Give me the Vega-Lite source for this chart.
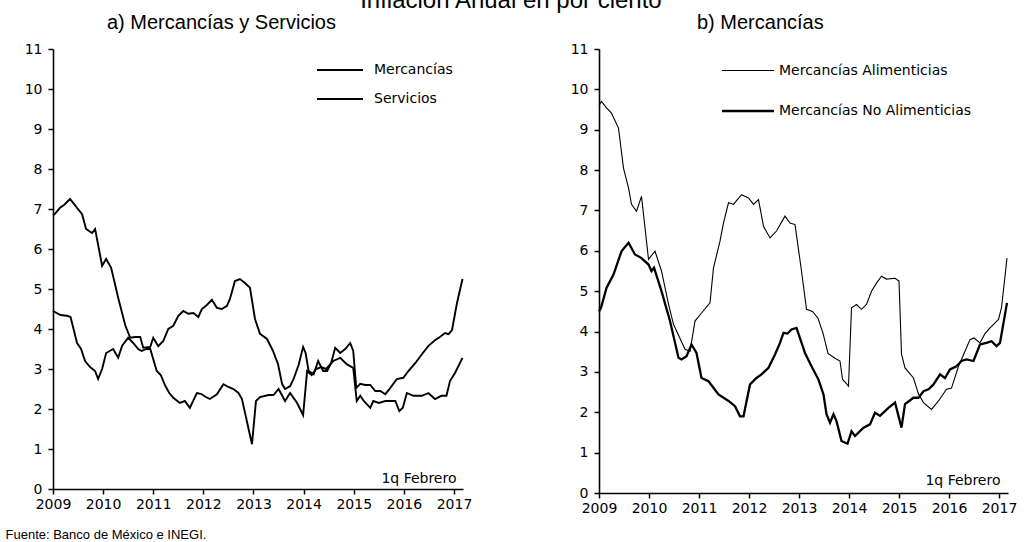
{
  "$schema": "https://vega.github.io/schema/vega-lite/v6.json",
  "background": "white",
  "padding": {"left": 5, "top": -11, "right": 2, "bottom": 0},
  "title": {"text": "Inflación Anual en por ciento", "font": "Liberation Sans", "fontSize": 24, "fontWeight": "normal", "color": "black", "anchor": "middle", "offset": 0},
  "config": {
    "view": {"stroke": null},
    "font": "Liberation Sans",
    "axis": {"domainColor": "black", "domainWidth": 1.6, "tickColor": "black", "tickWidth": 1.5, "tickSize": 5, "labelFont": "DejaVu Sans", "labelFontSize": 14, "labelColor": "black", "labelFlush": false, "grid": false, "titleFont": "DejaVu Sans", "titleFontSize": 14, "titleFontWeight": "normal", "titleColor": "black"},
    "axisY": {"labelPadding": 6},
    "axisX": {"labelPadding": 3},
    "legend": {"title": null, "orient": "none", "symbolStrokeColor": "black", "symbolFillColor": "transparent", "symbolSize": 235, "labelFont": "DejaVu Sans", "labelFontSize": 14, "labelColor": "black", "labelLimit": 400, "padding": 0}
  },
  "datasets": {
    "a": [
      {"s": "Mercancías", "t": 2009.0, "v": 6.85}, {"s": "Mercancías", "t": 2009.04, "v": 6.88}, {"s": "Mercancías", "t": 2009.14, "v": 7.03}, {"s": "Mercancías", "t": 2009.22, "v": 7.1}, {"s": "Mercancías", "t": 2009.34, "v": 7.25}, {"s": "Mercancías", "t": 2009.48, "v": 7.03}, {"s": "Mercancías", "t": 2009.58, "v": 6.87}, {"s": "Mercancías", "t": 2009.66, "v": 6.5}, {"s": "Mercancías", "t": 2009.78, "v": 6.4}, {"s": "Mercancías", "t": 2009.84, "v": 6.5}, {"s": "Mercancías", "t": 2009.98, "v": 5.58}, {"s": "Mercancías", "t": 2010.06, "v": 5.75}, {"s": "Mercancías", "t": 2010.16, "v": 5.53}, {"s": "Mercancías", "t": 2010.26, "v": 5.0}, {"s": "Mercancías", "t": 2010.3, "v": 4.78}, {"s": "Mercancías", "t": 2010.44, "v": 4.1}, {"s": "Mercancías", "t": 2010.54, "v": 3.78}, {"s": "Mercancías", "t": 2010.64, "v": 3.8}, {"s": "Mercancías", "t": 2010.74, "v": 3.8}, {"s": "Mercancías", "t": 2010.8, "v": 3.53}, {"s": "Mercancías", "t": 2010.94, "v": 3.55}, {"s": "Mercancías", "t": 2011.0, "v": 3.78}, {"s": "Mercancías", "t": 2011.1, "v": 3.57}, {"s": "Mercancías", "t": 2011.2, "v": 3.7}, {"s": "Mercancías", "t": 2011.3, "v": 4.0}, {"s": "Mercancías", "t": 2011.4, "v": 4.08}, {"s": "Mercancías", "t": 2011.5, "v": 4.33}, {"s": "Mercancías", "t": 2011.6, "v": 4.45}, {"s": "Mercancías", "t": 2011.7, "v": 4.38}, {"s": "Mercancías", "t": 2011.8, "v": 4.4}, {"s": "Mercancías", "t": 2011.9, "v": 4.3}, {"s": "Mercancías", "t": 2011.97, "v": 4.5}, {"s": "Mercancías", "t": 2012.07, "v": 4.6}, {"s": "Mercancías", "t": 2012.17, "v": 4.73}, {"s": "Mercancías", "t": 2012.27, "v": 4.53}, {"s": "Mercancías", "t": 2012.37, "v": 4.5}, {"s": "Mercancías", "t": 2012.47, "v": 4.58}, {"s": "Mercancías", "t": 2012.53, "v": 4.75}, {"s": "Mercancías", "t": 2012.63, "v": 5.2}, {"s": "Mercancías", "t": 2012.73, "v": 5.25}, {"s": "Mercancías", "t": 2012.83, "v": 5.15}, {"s": "Mercancías", "t": 2012.93, "v": 5.03}, {"s": "Mercancías", "t": 2013.03, "v": 4.25}, {"s": "Mercancías", "t": 2013.13, "v": 3.88}, {"s": "Mercancías", "t": 2013.27, "v": 3.75}, {"s": "Mercancías", "t": 2013.39, "v": 3.45}, {"s": "Mercancías", "t": 2013.49, "v": 3.12}, {"s": "Mercancías", "t": 2013.57, "v": 2.63}, {"s": "Mercancías", "t": 2013.63, "v": 2.5}, {"s": "Mercancías", "t": 2013.73, "v": 2.57}, {"s": "Mercancías", "t": 2013.8, "v": 2.75}, {"s": "Mercancías", "t": 2013.9, "v": 3.1}, {"s": "Mercancías", "t": 2013.99, "v": 3.55}, {"s": "Mercancías", "t": 2014.04, "v": 3.4}, {"s": "Mercancías", "t": 2014.1, "v": 2.95}, {"s": "Mercancías", "t": 2014.2, "v": 2.87}, {"s": "Mercancías", "t": 2014.29, "v": 3.2}, {"s": "Mercancías", "t": 2014.39, "v": 2.95}, {"s": "Mercancías", "t": 2014.47, "v": 2.95}, {"s": "Mercancías", "t": 2014.55, "v": 3.15}, {"s": "Mercancías", "t": 2014.63, "v": 3.53}, {"s": "Mercancías", "t": 2014.73, "v": 3.4}, {"s": "Mercancías", "t": 2014.83, "v": 3.5}, {"s": "Mercancías", "t": 2014.93, "v": 3.65}, {"s": "Mercancías", "t": 2014.99, "v": 3.45}, {"s": "Mercancías", "t": 2015.05, "v": 2.53}, {"s": "Mercancías", "t": 2015.13, "v": 2.63}, {"s": "Mercancías", "t": 2015.23, "v": 2.6}, {"s": "Mercancías", "t": 2015.33, "v": 2.6}, {"s": "Mercancías", "t": 2015.43, "v": 2.45}, {"s": "Mercancías", "t": 2015.53, "v": 2.45}, {"s": "Mercancías", "t": 2015.63, "v": 2.37}, {"s": "Mercancías", "t": 2015.73, "v": 2.53}, {"s": "Mercancías", "t": 2015.86, "v": 2.75}, {"s": "Mercancías", "t": 2015.99, "v": 2.78}, {"s": "Mercancías", "t": 2016.09, "v": 2.95}, {"s": "Mercancías", "t": 2016.23, "v": 3.15}, {"s": "Mercancías", "t": 2016.36, "v": 3.37}, {"s": "Mercancías", "t": 2016.49, "v": 3.58}, {"s": "Mercancías", "t": 2016.62, "v": 3.72}, {"s": "Mercancías", "t": 2016.72, "v": 3.8}, {"s": "Mercancías", "t": 2016.82, "v": 3.9}, {"s": "Mercancías", "t": 2016.89, "v": 3.87}, {"s": "Mercancías", "t": 2016.96, "v": 3.97}, {"s": "Mercancías", "t": 2017.06, "v": 4.65}, {"s": "Mercancías", "t": 2017.17, "v": 5.25},
      {"s": "Servicios", "t": 2009.0, "v": 4.45}, {"s": "Servicios", "t": 2009.15, "v": 4.35}, {"s": "Servicios", "t": 2009.28, "v": 4.33}, {"s": "Servicios", "t": 2009.35, "v": 4.3}, {"s": "Servicios", "t": 2009.42, "v": 3.95}, {"s": "Servicios", "t": 2009.48, "v": 3.65}, {"s": "Servicios", "t": 2009.56, "v": 3.5}, {"s": "Servicios", "t": 2009.64, "v": 3.2}, {"s": "Servicios", "t": 2009.74, "v": 3.05}, {"s": "Servicios", "t": 2009.84, "v": 2.95}, {"s": "Servicios", "t": 2009.9, "v": 2.75}, {"s": "Servicios", "t": 2009.98, "v": 3.0}, {"s": "Servicios", "t": 2010.06, "v": 3.4}, {"s": "Servicios", "t": 2010.2, "v": 3.5}, {"s": "Servicios", "t": 2010.3, "v": 3.28}, {"s": "Servicios", "t": 2010.38, "v": 3.58}, {"s": "Servicios", "t": 2010.5, "v": 3.78}, {"s": "Servicios", "t": 2010.6, "v": 3.65}, {"s": "Servicios", "t": 2010.7, "v": 3.5}, {"s": "Servicios", "t": 2010.77, "v": 3.45}, {"s": "Servicios", "t": 2010.86, "v": 3.5}, {"s": "Servicios", "t": 2010.94, "v": 3.5}, {"s": "Servicios", "t": 2011.07, "v": 2.95}, {"s": "Servicios", "t": 2011.15, "v": 2.85}, {"s": "Servicios", "t": 2011.24, "v": 2.58}, {"s": "Servicios", "t": 2011.32, "v": 2.4}, {"s": "Servicios", "t": 2011.4, "v": 2.28}, {"s": "Servicios", "t": 2011.53, "v": 2.15}, {"s": "Servicios", "t": 2011.63, "v": 2.2}, {"s": "Servicios", "t": 2011.73, "v": 2.03}, {"s": "Servicios", "t": 2011.87, "v": 2.4}, {"s": "Servicios", "t": 2011.95, "v": 2.38}, {"s": "Servicios", "t": 2012.05, "v": 2.3}, {"s": "Servicios", "t": 2012.13, "v": 2.25}, {"s": "Servicios", "t": 2012.27, "v": 2.37}, {"s": "Servicios", "t": 2012.4, "v": 2.62}, {"s": "Servicios", "t": 2012.5, "v": 2.55}, {"s": "Servicios", "t": 2012.6, "v": 2.5}, {"s": "Servicios", "t": 2012.7, "v": 2.4}, {"s": "Servicios", "t": 2012.77, "v": 2.25}, {"s": "Servicios", "t": 2012.97, "v": 1.12}, {"s": "Servicios", "t": 2013.05, "v": 2.2}, {"s": "Servicios", "t": 2013.13, "v": 2.3}, {"s": "Servicios", "t": 2013.3, "v": 2.35}, {"s": "Servicios", "t": 2013.4, "v": 2.35}, {"s": "Servicios", "t": 2013.5, "v": 2.5}, {"s": "Servicios", "t": 2013.63, "v": 2.2}, {"s": "Servicios", "t": 2013.73, "v": 2.4}, {"s": "Servicios", "t": 2013.87, "v": 2.15}, {"s": "Servicios", "t": 2013.99, "v": 1.85}, {"s": "Servicios", "t": 2014.07, "v": 2.95}, {"s": "Servicios", "t": 2014.16, "v": 2.85}, {"s": "Servicios", "t": 2014.25, "v": 3.0}, {"s": "Servicios", "t": 2014.35, "v": 3.05}, {"s": "Servicios", "t": 2014.45, "v": 3.0}, {"s": "Servicios", "t": 2014.59, "v": 3.2}, {"s": "Servicios", "t": 2014.73, "v": 3.28}, {"s": "Servicios", "t": 2014.86, "v": 3.12}, {"s": "Servicios", "t": 2014.99, "v": 3.03}, {"s": "Servicios", "t": 2015.06, "v": 2.2}, {"s": "Servicios", "t": 2015.13, "v": 2.33}, {"s": "Servicios", "t": 2015.2, "v": 2.2}, {"s": "Servicios", "t": 2015.33, "v": 2.03}, {"s": "Servicios", "t": 2015.39, "v": 2.2}, {"s": "Servicios", "t": 2015.5, "v": 2.15}, {"s": "Servicios", "t": 2015.63, "v": 2.2}, {"s": "Servicios", "t": 2015.83, "v": 2.2}, {"s": "Servicios", "t": 2015.91, "v": 1.95}, {"s": "Servicios", "t": 2015.98, "v": 2.03}, {"s": "Servicios", "t": 2016.06, "v": 2.4}, {"s": "Servicios", "t": 2016.19, "v": 2.33}, {"s": "Servicios", "t": 2016.36, "v": 2.33}, {"s": "Servicios", "t": 2016.49, "v": 2.4}, {"s": "Servicios", "t": 2016.62, "v": 2.25}, {"s": "Servicios", "t": 2016.75, "v": 2.33}, {"s": "Servicios", "t": 2016.85, "v": 2.33}, {"s": "Servicios", "t": 2016.92, "v": 2.7}, {"s": "Servicios", "t": 2017.02, "v": 2.9}, {"s": "Servicios", "t": 2017.17, "v": 3.28}
    ],
    "b": [
      {"s": "Mercancías Alimenticias", "t": 2009.0, "v": 9.6}, {"s": "Mercancías Alimenticias", "t": 2009.05, "v": 9.7}, {"s": "Mercancías Alimenticias", "t": 2009.15, "v": 9.54}, {"s": "Mercancías Alimenticias", "t": 2009.25, "v": 9.41}, {"s": "Mercancías Alimenticias", "t": 2009.39, "v": 9.04}, {"s": "Mercancías Alimenticias", "t": 2009.49, "v": 8.05}, {"s": "Mercancías Alimenticias", "t": 2009.59, "v": 7.56}, {"s": "Mercancías Alimenticias", "t": 2009.65, "v": 7.15}, {"s": "Mercancías Alimenticias", "t": 2009.75, "v": 6.98}, {"s": "Mercancías Alimenticias", "t": 2009.85, "v": 7.35}, {"s": "Mercancías Alimenticias", "t": 2009.99, "v": 5.79}, {"s": "Mercancías Alimenticias", "t": 2010.12, "v": 5.99}, {"s": "Mercancías Alimenticias", "t": 2010.25, "v": 5.5}, {"s": "Mercancías Alimenticias", "t": 2010.39, "v": 4.68}, {"s": "Mercancías Alimenticias", "t": 2010.49, "v": 4.18}, {"s": "Mercancías Alimenticias", "t": 2010.72, "v": 3.56}, {"s": "Mercancías Alimenticias", "t": 2010.82, "v": 3.51}, {"s": "Mercancías Alimenticias", "t": 2010.92, "v": 4.26}, {"s": "Mercancías Alimenticias", "t": 2011.05, "v": 4.46}, {"s": "Mercancías Alimenticias", "t": 2011.22, "v": 4.71}, {"s": "Mercancías Alimenticias", "t": 2011.29, "v": 5.58}, {"s": "Mercancías Alimenticias", "t": 2011.42, "v": 6.24}, {"s": "Mercancías Alimenticias", "t": 2011.49, "v": 6.69}, {"s": "Mercancías Alimenticias", "t": 2011.59, "v": 7.19}, {"s": "Mercancías Alimenticias", "t": 2011.69, "v": 7.15}, {"s": "Mercancías Alimenticias", "t": 2011.85, "v": 7.39}, {"s": "Mercancías Alimenticias", "t": 2011.99, "v": 7.31}, {"s": "Mercancías Alimenticias", "t": 2012.09, "v": 7.15}, {"s": "Mercancías Alimenticias", "t": 2012.19, "v": 7.27}, {"s": "Mercancías Alimenticias", "t": 2012.29, "v": 6.61}, {"s": "Mercancías Alimenticias", "t": 2012.42, "v": 6.32}, {"s": "Mercancías Alimenticias", "t": 2012.55, "v": 6.49}, {"s": "Mercancías Alimenticias", "t": 2012.72, "v": 6.86}, {"s": "Mercancías Alimenticias", "t": 2012.82, "v": 6.69}, {"s": "Mercancías Alimenticias", "t": 2012.92, "v": 6.65}, {"s": "Mercancías Alimenticias", "t": 2013.05, "v": 5.5}, {"s": "Mercancías Alimenticias", "t": 2013.15, "v": 4.55}, {"s": "Mercancías Alimenticias", "t": 2013.27, "v": 4.5}, {"s": "Mercancías Alimenticias", "t": 2013.38, "v": 4.33}, {"s": "Mercancías Alimenticias", "t": 2013.48, "v": 3.96}, {"s": "Mercancías Alimenticias", "t": 2013.58, "v": 3.46}, {"s": "Mercancías Alimenticias", "t": 2013.72, "v": 3.34}, {"s": "Mercancías Alimenticias", "t": 2013.82, "v": 3.27}, {"s": "Mercancías Alimenticias", "t": 2013.87, "v": 2.82}, {"s": "Mercancías Alimenticias", "t": 2013.99, "v": 2.65}, {"s": "Mercancías Alimenticias", "t": 2014.05, "v": 4.59}, {"s": "Mercancías Alimenticias", "t": 2014.15, "v": 4.67}, {"s": "Mercancías Alimenticias", "t": 2014.25, "v": 4.55}, {"s": "Mercancías Alimenticias", "t": 2014.35, "v": 4.67}, {"s": "Mercancías Alimenticias", "t": 2014.45, "v": 5.0}, {"s": "Mercancías Alimenticias", "t": 2014.55, "v": 5.2}, {"s": "Mercancías Alimenticias", "t": 2014.65, "v": 5.37}, {"s": "Mercancías Alimenticias", "t": 2014.75, "v": 5.3}, {"s": "Mercancías Alimenticias", "t": 2014.92, "v": 5.32}, {"s": "Mercancías Alimenticias", "t": 2015.0, "v": 5.25}, {"s": "Mercancías Alimenticias", "t": 2015.05, "v": 3.44}, {"s": "Mercancías Alimenticias", "t": 2015.12, "v": 3.1}, {"s": "Mercancías Alimenticias", "t": 2015.29, "v": 2.85}, {"s": "Mercancías Alimenticias", "t": 2015.39, "v": 2.45}, {"s": "Mercancías Alimenticias", "t": 2015.49, "v": 2.24}, {"s": "Mercancías Alimenticias", "t": 2015.65, "v": 2.07}, {"s": "Mercancías Alimenticias", "t": 2015.79, "v": 2.28}, {"s": "Mercancías Alimenticias", "t": 2015.95, "v": 2.57}, {"s": "Mercancías Alimenticias", "t": 2016.05, "v": 2.6}, {"s": "Mercancías Alimenticias", "t": 2016.19, "v": 3.14}, {"s": "Mercancías Alimenticias", "t": 2016.32, "v": 3.51}, {"s": "Mercancías Alimenticias", "t": 2016.42, "v": 3.8}, {"s": "Mercancías Alimenticias", "t": 2016.5, "v": 3.84}, {"s": "Mercancías Alimenticias", "t": 2016.62, "v": 3.72}, {"s": "Mercancías Alimenticias", "t": 2016.72, "v": 3.95}, {"s": "Mercancías Alimenticias", "t": 2016.82, "v": 4.09}, {"s": "Mercancías Alimenticias", "t": 2016.99, "v": 4.3}, {"s": "Mercancías Alimenticias", "t": 2017.05, "v": 4.59}, {"s": "Mercancías Alimenticias", "t": 2017.16, "v": 5.82},
      {"s": "Mercancías No Alimenticias", "t": 2009.0, "v": 4.5}, {"s": "Mercancías No Alimenticias", "t": 2009.04, "v": 4.59}, {"s": "Mercancías No Alimenticias", "t": 2009.15, "v": 5.08}, {"s": "Mercancías No Alimenticias", "t": 2009.29, "v": 5.41}, {"s": "Mercancías No Alimenticias", "t": 2009.45, "v": 5.99}, {"s": "Mercancías No Alimenticias", "t": 2009.59, "v": 6.2}, {"s": "Mercancías No Alimenticias", "t": 2009.72, "v": 5.91}, {"s": "Mercancías No Alimenticias", "t": 2009.85, "v": 5.82}, {"s": "Mercancías No Alimenticias", "t": 2009.99, "v": 5.66}, {"s": "Mercancías No Alimenticias", "t": 2010.05, "v": 5.5}, {"s": "Mercancías No Alimenticias", "t": 2010.1, "v": 5.58}, {"s": "Mercancías No Alimenticias", "t": 2010.25, "v": 5.0}, {"s": "Mercancías No Alimenticias", "t": 2010.42, "v": 4.26}, {"s": "Mercancías No Alimenticias", "t": 2010.59, "v": 3.35}, {"s": "Mercancías No Alimenticias", "t": 2010.65, "v": 3.31}, {"s": "Mercancías No Alimenticias", "t": 2010.75, "v": 3.39}, {"s": "Mercancías No Alimenticias", "t": 2010.85, "v": 3.68}, {"s": "Mercancías No Alimenticias", "t": 2010.95, "v": 3.47}, {"s": "Mercancías No Alimenticias", "t": 2011.05, "v": 2.85}, {"s": "Mercancías No Alimenticias", "t": 2011.19, "v": 2.77}, {"s": "Mercancías No Alimenticias", "t": 2011.39, "v": 2.44}, {"s": "Mercancías No Alimenticias", "t": 2011.59, "v": 2.28}, {"s": "Mercancías No Alimenticias", "t": 2011.72, "v": 2.15}, {"s": "Mercancías No Alimenticias", "t": 2011.82, "v": 1.9}, {"s": "Mercancías No Alimenticias", "t": 2011.89, "v": 1.9}, {"s": "Mercancías No Alimenticias", "t": 2012.02, "v": 2.69}, {"s": "Mercancías No Alimenticias", "t": 2012.15, "v": 2.85}, {"s": "Mercancías No Alimenticias", "t": 2012.25, "v": 2.94}, {"s": "Mercancías No Alimenticias", "t": 2012.39, "v": 3.1}, {"s": "Mercancías No Alimenticias", "t": 2012.52, "v": 3.43}, {"s": "Mercancías No Alimenticias", "t": 2012.62, "v": 3.72}, {"s": "Mercancías No Alimenticias", "t": 2012.69, "v": 3.97}, {"s": "Mercancías No Alimenticias", "t": 2012.77, "v": 3.95}, {"s": "Mercancías No Alimenticias", "t": 2012.85, "v": 4.05}, {"s": "Mercancías No Alimenticias", "t": 2012.95, "v": 4.09}, {"s": "Mercancías No Alimenticias", "t": 2013.12, "v": 3.47}, {"s": "Mercancías No Alimenticias", "t": 2013.25, "v": 3.14}, {"s": "Mercancías No Alimenticias", "t": 2013.39, "v": 2.81}, {"s": "Mercancías No Alimenticias", "t": 2013.49, "v": 2.44}, {"s": "Mercancías No Alimenticias", "t": 2013.55, "v": 1.95}, {"s": "Mercancías No Alimenticias", "t": 2013.62, "v": 1.74}, {"s": "Mercancías No Alimenticias", "t": 2013.69, "v": 1.95}, {"s": "Mercancías No Alimenticias", "t": 2013.75, "v": 1.78}, {"s": "Mercancías No Alimenticias", "t": 2013.85, "v": 1.29}, {"s": "Mercancías No Alimenticias", "t": 2013.97, "v": 1.22}, {"s": "Mercancías No Alimenticias", "t": 2014.05, "v": 1.53}, {"s": "Mercancías No Alimenticias", "t": 2014.12, "v": 1.41}, {"s": "Mercancías No Alimenticias", "t": 2014.29, "v": 1.62}, {"s": "Mercancías No Alimenticias", "t": 2014.42, "v": 1.7}, {"s": "Mercancías No Alimenticias", "t": 2014.52, "v": 1.99}, {"s": "Mercancías No Alimenticias", "t": 2014.62, "v": 1.91}, {"s": "Mercancías No Alimenticias", "t": 2014.79, "v": 2.11}, {"s": "Mercancías No Alimenticias", "t": 2014.92, "v": 2.24}, {"s": "Mercancías No Alimenticias", "t": 2015.05, "v": 1.62}, {"s": "Mercancías No Alimenticias", "t": 2015.12, "v": 2.2}, {"s": "Mercancías No Alimenticias", "t": 2015.29, "v": 2.36}, {"s": "Mercancías No Alimenticias", "t": 2015.39, "v": 2.36}, {"s": "Mercancías No Alimenticias", "t": 2015.49, "v": 2.52}, {"s": "Mercancías No Alimenticias", "t": 2015.59, "v": 2.57}, {"s": "Mercancías No Alimenticias", "t": 2015.69, "v": 2.69}, {"s": "Mercancías No Alimenticias", "t": 2015.82, "v": 2.94}, {"s": "Mercancías No Alimenticias", "t": 2015.92, "v": 2.85}, {"s": "Mercancías No Alimenticias", "t": 2016.02, "v": 3.06}, {"s": "Mercancías No Alimenticias", "t": 2016.15, "v": 3.14}, {"s": "Mercancías No Alimenticias", "t": 2016.25, "v": 3.27}, {"s": "Mercancías No Alimenticias", "t": 2016.35, "v": 3.31}, {"s": "Mercancías No Alimenticias", "t": 2016.49, "v": 3.27}, {"s": "Mercancías No Alimenticias", "t": 2016.62, "v": 3.68}, {"s": "Mercancías No Alimenticias", "t": 2016.75, "v": 3.72}, {"s": "Mercancías No Alimenticias", "t": 2016.85, "v": 3.76}, {"s": "Mercancías No Alimenticias", "t": 2016.95, "v": 3.64}, {"s": "Mercancías No Alimenticias", "t": 2017.02, "v": 3.72}, {"s": "Mercancías No Alimenticias", "t": 2017.16, "v": 4.71}
    ]
  },
  "spacing": 136,
  "bounds": "flush",
  "resolve": {"scale": {"strokeWidth": "independent"}, "legend": {"strokeWidth": "independent"}},
  "hconcat": [
    {
      "width": 410,
      "height": 440,
      "data": {"name": "a"},
      "title": {"text": "a) Mercancías y Servicios", "anchor": "start", "frame": "group", "dx": 54, "offset": 9, "font": "Liberation Sans", "fontSize": 20, "fontWeight": "normal", "color": "black"},
      "mark": {"type": "line", "color": "black"},
      "encoding": {
        "x": {"field": "t", "type": "quantitative", "scale": {"domain": [2009, 2017.18], "nice": false, "zero": false},
              "axis": {"values": [2009, 2010, 2011, 2012, 2013, 2014, 2015, 2016, 2017], "format": "d", "title": "1q Febrero", "titleX": 403, "titleY": -7, "titleAlign": "right", "titleBaseline": "alphabetic"}},
        "y": {"field": "v", "type": "quantitative", "scale": {"domain": [0, 11], "nice": false},
              "axis": {"values": [0, 1, 2, 3, 4, 5, 6, 7, 8, 9, 10, 11], "title": "Fuente: Banco de México e INEGI.", "titleFont": "Liberation Sans", "titleFontSize": 13, "titleAngle": 0, "titleX": -48, "titleY": 489, "titleAlign": "left", "titleBaseline": "alphabetic"}},
        "strokeWidth": {"field": "s", "type": "ordinal", "scale": {"type": "ordinal", "domain": ["Mercancías", "Servicios"], "range": [1.9, 1.9]},
              "legend": {"legendX": 278, "legendY": 12, "symbolType": "M-3,0H3", "labelOffset": 25, "rowPadding": 13}}
      }
    },
    {
      "width": 409,
      "height": 444,
      "data": {"name": "b"},
      "title": {"text": "b) Mercancías", "anchor": "start", "frame": "group", "dx": 98, "offset": 9, "font": "Liberation Sans", "fontSize": 20, "fontWeight": "normal", "color": "black"},
      "mark": {"type": "line", "color": "black"},
      "encoding": {
        "x": {"field": "t", "type": "quantitative", "scale": {"domain": [2009, 2017.18], "nice": false, "zero": false},
              "axis": {"values": [2009, 2010, 2011, 2012, 2013, 2014, 2015, 2016, 2017], "format": "d", "title": "1q Febrero", "titleX": 401, "titleY": -9, "titleAlign": "right", "titleBaseline": "alphabetic"}},
        "y": {"field": "v", "type": "quantitative", "scale": {"domain": [0, 11], "nice": false},
              "axis": {"values": [0, 1, 2, 3, 4, 5, 6, 7, 8, 9, 10, 11], "title": null}},
        "strokeWidth": {"field": "s", "type": "ordinal", "scale": {"type": "ordinal", "domain": ["Mercancías Alimenticias", "Mercancías No Alimenticias"], "range": [1.1, 2.3]},
              "legend": {"legendX": 140, "legendY": 13, "symbolType": "M-3.4,0H3.4", "labelOffset": 22, "rowPadding": 24}}
      }
    }
  ]
}
